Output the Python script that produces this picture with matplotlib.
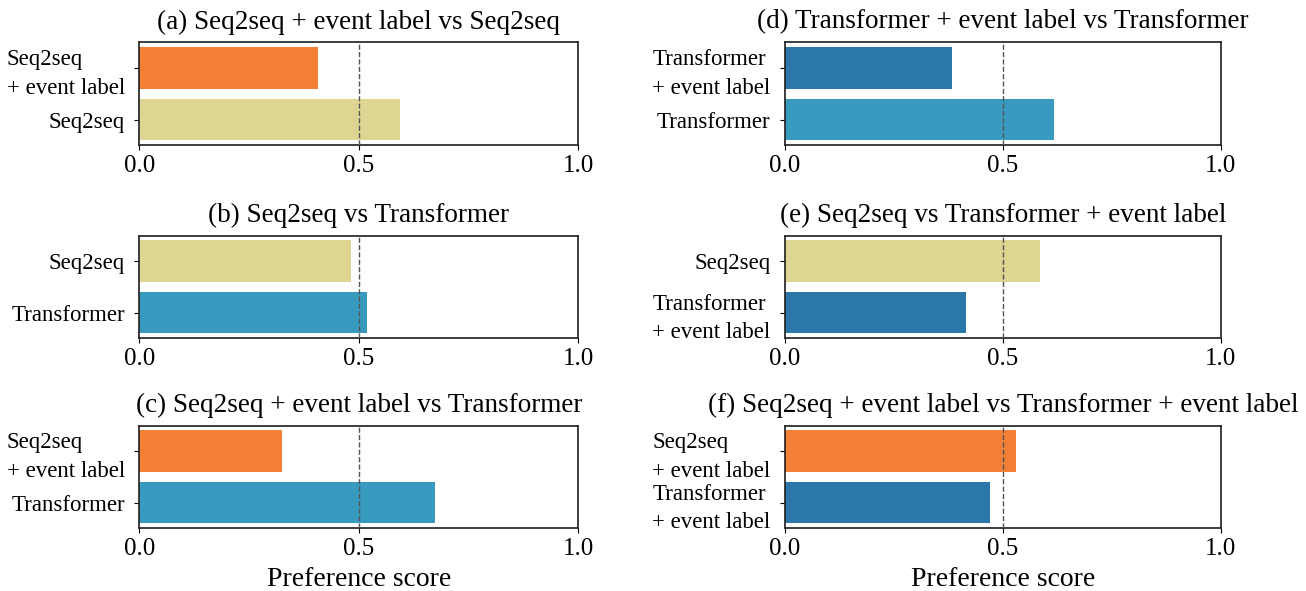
import matplotlib

matplotlib.use("Agg")
import matplotlib.pyplot as plt  # type: ignore

# Panel titles, in (a)..(f) order
TITLES = [
    "(a) Seq2seq + event label vs Seq2seq",
    "(b) Seq2seq vs Transformer",
    "(c) Seq2seq + event label vs Transformer",
    "(d) Transformer + event label vs Transformer",
    "(e) Seq2seq vs Transformer + event label",
    "(f) Seq2seq + event label vs Transformer + event label",
]

# Systems compared in each panel (top bar first)
SYSTEMS = [
    ["Seq2seq + event label", "Seq2seq"],
    ["Seq2seq", "Transformer"],
    ["Seq2seq + event label", "Transformer"],
    ["Transformer + event label", "Transformer"],
    ["Seq2seq", "Transformer + event label"],
    ["Seq2seq + event label", "Transformer + event label"],
]

# Preference scores
SCORES = [
    [0.406, 0.594],
    [0.482, 0.518],
    [0.326, 0.674],
    [0.383, 0.617],
    [0.585, 0.415],
    [0.530, 0.470],
]

COLORS = {
    "Seq2seq + event label": "#F47F36",
    "Seq2seq": "#DFD592",
    "Transformer": "#379ABE",
    "Transformer + event label": "#2C77A9",
}


def tick_label(name: str) -> str:
    # long names are split over two lines
    return name.replace(" + ", "\n+ ")


plt.rcParams["font.family"] = ["Liberation Serif", "DejaVu Serif"]
plt.rcParams["axes.edgecolor"] = "#262626"
plt.rcParams["axes.linewidth"] = 1.25

fig = plt.figure(figsize=(13.06, 5.91), dpi=100)

# axes boxes in figure fractions: [left, bottom, width, height]
col_x = [(0.1068, 0.3358), (0.6011, 0.3338)]
row_y = [0.7547, 0.4281, 0.1066]
row_h = 0.1734

for i, (title, systems, scores) in enumerate(zip(TITLES, SYSTEMS, SCORES)):
    col, row = divmod(i, 3)
    x0, w = col_x[col]
    ax = fig.add_axes([x0, row_y[row], w, row_h])

    ypos = list(range(len(systems)))
    ax.barh(ypos, scores, height=0.8, color=[COLORS[s] for s in systems])
    ax.axvline(0.5, color="#555555", ls="--", lw=1.0, zorder=3)

    ax.set_xlim(0, 1)
    ax.set_ylim(len(systems) - 0.51, -0.49)
    ax.set_yticks(ypos)
    ax.set_yticklabels(
        [tick_label(s) for s in systems],
        fontsize=16.5,
        multialignment="left",
        linespacing=1.45,
    )
    ax.tick_params(axis="y", pad=7)
    ax.set_xticks([0.0, 0.5, 1.0])
    ax.set_xticklabels(["0.0", "0.5", "1.0"], fontsize=18)
    ax.set_title(title, fontsize=19.5, pad=10)

    if row == 2:
        ax.set_xlabel("Preference score", fontsize=20, labelpad=5)

fig.savefig("out.png", dpi=100)
